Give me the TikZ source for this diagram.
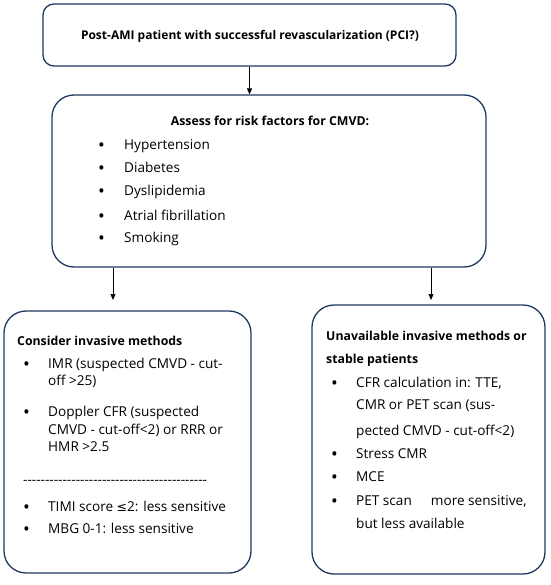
\documentclass[tikz,border=0pt]{standalone}
\usepackage{fontspec}
\setmainfont{Open Sans}
\newfontfamily\symf{DejaVu Sans}
\usetikzlibrary{arrows.meta}
\definecolor{navy}{HTML}{1F3A60}
\newcommand{\bul}{{\fontsize{18}{18}\selectfont •}}
\tikzset{
  box/.style={draw=navy, line width=1.3pt, rounded corners=22pt, inner sep=0pt},
  tx/.style={anchor=mid west, inner sep=0pt, font=\fontsize{13.6}{15}\selectfont},
  bt/.style={tx, yshift=-2pt},
  hd/.style={tx, font=\fontsize{12.3}{15}\selectfont\bfseries},
  arr/.style={-{Triangle[length=6pt,width=5pt]}, line width=0.6pt}
}
\begin{document}
\begin{tikzpicture}[x=1pt,y=-1pt]
\useasboundingbox (0,0) rectangle (550,585);
% boxes
\node[box, rounded corners=11pt, minimum width=413pt, minimum height=62pt] (b1) at (249.5,35) {};
\node[box, minimum width=434pt, minimum height=172pt] (b2) at (269,181) {};
\node[box, minimum width=247pt, minimum height=262pt] (b3) at (127.5,442) {};
\node[box, minimum width=233pt, minimum height=269pt] (b4) at (428.5,439.5) {};
% box 1 text
\node[anchor=mid, inner sep=0pt, font=\fontsize{12}{15}\selectfont\bfseries] (t1) at (250,37) {Post-AMI patient with successful revascularization (PCI?)};
% box 2 text
\node[anchor=mid, inner sep=0pt, font=\fontsize{12.3}{15}\selectfont\bfseries] (t2) at (270,123) {Assess for risk factors for CMVD:};
\foreach \y/\t [count=\i] in {147/Hypertension,170/Diabetes,193/Dyslipidemia,218/Atrial fibrillation,240/Smoking}{
  \node[bt] (b2d\i) at (98,\y) {\bul};
  \node[tx] (b2t\i) at (124,\y) {\t};
}
% box 3 text
\node[hd] (h3) at (17,343) {Consider invasive methods};
\node[bt] (d31) at (23,366) {\bul};
\node[tx] (l31) at (48,366) {IMR (suspected CMVD - cut-};
\node[tx] (l32) at (48,383) {off >25)};
\node[bt] (d32) at (23,414) {\bul};
\node[tx] (l33) at (48,414) {Doppler CFR (suspected};
\node[tx] (l34) at (48,432) {CMVD - cut-off<2) or RRR or};
\node[tx] (l35) at (48,449) {HMR >2.5};
\node[tx] (l36) at (23,482) {\foreach \k in {1,...,42}{\mbox{-}}};
\node[bt] (d33) at (23,509) {\bul};
\node[tx] (l37) at (48,509) {TIMI score {\symf\fontsize{12.5}{14}\selectfont ≤}2: less sensitive};
\node[bt] (d34) at (23,531) {\bul};
\node[tx] (l38) at (48,531) {MBG 0-1: less sensitive};
% box 4 text
\node[hd] (h41) at (326,338) {Unavailable invasive methods or};
\node[hd] (h42) at (326,361) {stable patients};
\node[bt] (d41) at (331,385) {\bul};
\node[tx] (l41) at (356,385) {CFR calculation in: TTE,};
\node[tx] (l42) at (356,407) {CMR or PET scan (sus-};
\node[tx] (l43) at (356,433) {pected CMVD - cut-off<2)};
\node[bt] (d42) at (331,456) {\bul};
\node[tx] (l44) at (356,456) {Stress CMR};
\node[bt] (d43) at (331,479) {\bul};
\node[tx] (l45) at (356,479) {MCE};
\node[bt] (d44) at (331,503) {\bul};
\node[tx] (l46) at (356,503) {PET scan\hspace{1.4em}more sensitive,};
\node[tx] (l47) at (356,526) {but less available};
% connectors
\coordinate (e3) at (113,300);
\coordinate (e4) at (431,300);
\draw[arr] (b1.south) -- (b2.north -| b1.south);
\draw[arr] (b2.south -| e3) -- (e3);
\draw[arr] (b2.south -| e4) -- (e4);
\end{tikzpicture}
\end{document}
